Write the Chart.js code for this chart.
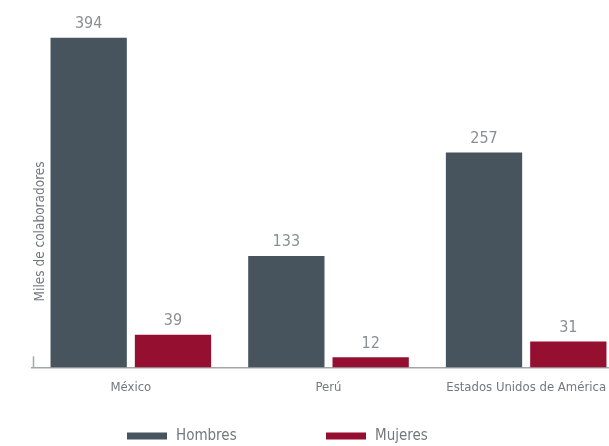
<!DOCTYPE html>
<html>
<head>
<meta charset="utf-8">
<script src="https://cdn.jsdelivr.net/npm/chart.js@4/dist/chart.umd.min.js"></script>
<style>
  html, body { margin: 0; padding: 0; background: #fff; overflow: hidden; }
  #wrap { width: 625px; height: 446px; }
</style>
</head>
<body>
<div id="wrap"><canvas id="grafico"></canvas></div>
<script>
const paises = ['México', 'Perú', 'Estados Unidos de América'];
const hombres = [394, 133, 257];
const mujeres = [39, 12, 31];
const fuente = "'Liberation Sans Narrow', 'DejaVu Sans Condensed', sans-serif";

// etiquetas de valor encima de cada barra
const etiquetas = {
    id: 'etiquetas',
    afterDatasetsDraw(chart) {
        const c = chart.ctx;
        c.save();
        c.font = '16px ' + fuente;
        c.fillStyle = '#8a8f94';
        c.textAlign = 'center';
        c.textBaseline = 'bottom';
        chart.data.datasets.forEach((ds, i) => {
            chart.getDatasetMeta(i).data.forEach((bar, j) => {
                c.fillText(ds.data[j], bar.x, bar.y - 6);
            });
        });
        c.restore();
    }
};

// pequeña marca del eje y y su título
const ejeY = {
    id: 'ejeY',
    afterDraw(chart) {
        const c = chart.ctx, a = chart.chartArea;
        c.save();
        c.strokeStyle = '#a3a6a9';
        c.lineWidth = 1.5;
        c.beginPath();
        c.moveTo(a.left + 1.5, a.bottom - 11);
        c.lineTo(a.left + 1.5, a.bottom);
        c.stroke();
        c.translate(a.left + 8, a.bottom - 136);
        c.rotate(-Math.PI / 2);
        c.font = '13.5px ' + fuente;
        c.fillStyle = '#74787d';
        c.textAlign = 'center';
        c.textBaseline = 'middle';
        c.fillText('Miles de colaboradores', 0, 0);
        c.restore();
    }
};

// leyenda dibujada a mano con cajas anchas y mucho espacio
const leyenda = {
    id: 'leyenda',
    afterDraw(chart) {
        const c = chart.ctx, a = chart.chartArea;
        c.save();
        c.font = '15px ' + fuente;
        c.textBaseline = 'middle';
        c.textAlign = 'left';
        let x = a.left + 95;
        const y = chart.height - 10;
        chart.data.datasets.forEach(ds => {
            c.fillStyle = ds.backgroundColor;
            c.fillRect(x, y - 3.5, 40, 7);
            c.fillStyle = '#74787d';
            c.fillText(ds.label, x + 49, y);
            x += 199;
        });
        c.restore();
    }
};

new Chart(document.getElementById('grafico'), {
    type: 'bar',
    data: {
        labels: paises,
        datasets: [
            { label: 'Hombres', data: hombres, backgroundColor: '#48545d' },
            { label: 'Mujeres', data: mujeres, backgroundColor: '#950f30' }
        ]
    },
    options: {
        responsive: true,
        maintainAspectRatio: false,
        animation: false,
        layout: { padding: { left: 32, top: 16, right: 0, bottom: 39 } },
        datasets: { bar: { categoryPercentage: 0.853, barPercentage: 0.905 } },
        scales: {
            x: {
                grid: { display: false, drawTicks: false },
                border: { display: true, color: '#a3a6a9', width: 1.5 },
                ticks: { padding: 12, color: '#74787d', font: { family: fuente, size: 13 } }
            },
            y: { display: false, min: 0, max: 420 }
        },
        plugins: {
            legend: { display: false },
            tooltip: { enabled: false }
        }
    },
    plugins: [etiquetas, ejeY, leyenda]
});
</script>
</body>
</html>
